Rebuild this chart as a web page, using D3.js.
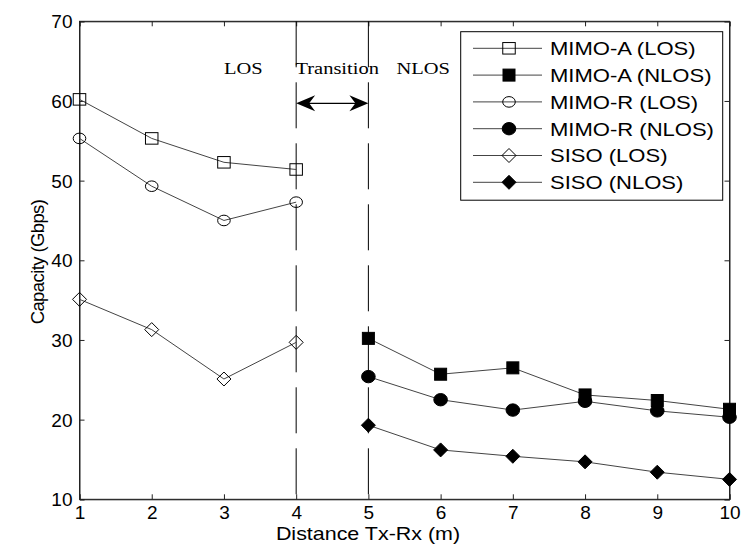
<!DOCTYPE html>
<html><head><meta charset="utf-8">
<script src="https://cdn.jsdelivr.net/npm/d3@7"></script>
<style>body{margin:0;background:#fff}svg{display:block}</style>
</head><body>
<svg id="c" width="745" height="546"></svg>
<script>
// ---- data ----
const xLOS = [1, 2, 3, 4];
const xNLOS = [5, 6, 7, 8, 9, 10];
const mimoA_LOS = [60.2, 55.3, 52.3, 51.4];
const mimoR_LOS = [55.3, 49.3, 45.0, 47.3];
const siso_LOS = [35.1, 31.3, 25.1, 29.7];
const mimoA_NLOS = [30.2, 25.7, 26.5, 23.1, 22.4, 21.3];
const mimoR_NLOS = [25.4, 22.5, 21.2, 22.3, 21.1, 20.3];
const siso_NLOS = [19.3, 16.2, 15.4, 14.7, 13.4, 12.5];
const seriesNames = ["MIMO-A (LOS)", "MIMO-A (NLOS)", "MIMO-R (LOS)", "MIMO-R (NLOS)", "SISO (LOS)", "SISO (NLOS)"];
const xTicks = [1, 2, 3, 4, 5, 6, 7, 8, 9, 10];
const yTicks = [10, 20, 30, 40, 50, 60, 70];
const regionLabels = ["LOS", "Transition", "NLOS"];
const xTitle = "Distance Tx-Rx (m)";
const yTitle = "Capacity (Gbps)";

const series = [
  {name: seriesNames[0], xs: xLOS, ys: mimoA_LOS, shape: "square", filled: false},
  {name: seriesNames[1], xs: xNLOS, ys: mimoA_NLOS, shape: "square", filled: true},
  {name: seriesNames[2], xs: xLOS, ys: mimoR_LOS, shape: "circle", filled: false},
  {name: seriesNames[3], xs: xNLOS, ys: mimoR_NLOS, shape: "circle", filled: true},
  {name: seriesNames[4], xs: xLOS, ys: siso_LOS, shape: "diamond", filled: false},
  {name: seriesNames[5], xs: xNLOS, ys: siso_NLOS, shape: "diamond", filled: true}
];

const svg = d3.select("#c");
const L = 79.5, R = 729.5, T = 21.3, B = 499.3;
const x = d3.scaleLinear().domain([1, 10]).range([L, R]);
const y = d3.scaleLinear().domain([10, 70]).range([B, T]);
const SX = 1.16; // horizontal stretch of the original figure

// frame
svg.append("rect").attr("x", L).attr("y", T).attr("width", R - L).attr("height", B - T)
  .attr("fill", "none").attr("stroke", "#222").attr("stroke-width", 1);

// axes
const xAxis = svg.append("g").attr("transform", `translate(0,${B})`)
  .call(d3.axisBottom(x).tickValues(xTicks).tickSize(-5).tickPadding(9).tickFormat(d3.format("d")));
const xAxisTop = svg.append("g").attr("transform", `translate(0,${T})`)
  .call(d3.axisTop(x).tickValues(xTicks).tickSize(-5).tickFormat(""));
const yAxis = svg.append("g").attr("transform", `translate(${L},0)`)
  .call(d3.axisLeft(y).tickValues(yTicks).tickSize(-5).tickPadding(7).tickFormat(d3.format("d")));
const yAxisR = svg.append("g").attr("transform", `translate(${R},0)`)
  .call(d3.axisRight(y).tickValues(yTicks).tickSize(-5).tickFormat(""));
[xAxis, xAxisTop, yAxis, yAxisR].forEach(g => {
  g.select(".domain").attr("stroke", "#222");
  g.selectAll(".tick line").attr("stroke", "#222");
});
xAxis.selectAll(".tick text").attr("font-family", "Arial, 'Liberation Sans', sans-serif")
  .attr("font-size", 19).attr("fill", "#000").attr("dy", null).attr("y", 20);
yAxis.selectAll(".tick text").attr("font-family", "Arial, 'Liberation Sans', sans-serif")
  .attr("font-size", 19).attr("fill", "#000").attr("x", -7).attr("dy", "0.35em");

// dashed region boundaries
[4, 5].forEach(v => {
  svg.append("line").attr("x1", x(v)).attr("x2", x(v)).attr("y1", T).attr("y2", B)
    .attr("stroke", "#000").attr("stroke-width", 1).attr("stroke-dasharray", "46,15");
});

// region labels
function sText(tx, ty, str, size, family, anchor, sx) {
  const g = svg.append("g").attr("transform", `translate(${tx},${ty}) scale(${sx},1)`);
  return g.append("text").attr("x", 0).attr("y", 0).attr("font-size", size)
    .attr("font-family", family).attr("text-anchor", anchor).attr("fill", "#000").text(str);
}
const serif = "'Liberation Serif', 'Times New Roman', serif";
sText(224, 74, regionLabels[0], 16, serif, "start", 1.28);
sText(295.5, 74, regionLabels[1], 16, serif, "start", 1.28);
sText(396.5, 74, regionLabels[2], 16, serif, "start", 1.28);

// double-headed arrow
const ay = 103.3, ax1 = x(4), ax2 = x(5);
svg.append("line").attr("x1", ax1 + 10).attr("x2", ax2 - 10).attr("y1", ay).attr("y2", ay)
  .attr("stroke", "#000").attr("stroke-width", 1.2);
svg.append("path").attr("d", `M${ax1},${ay} L${ax1 + 19},${ay - 8} L${ax1 + 13},${ay} L${ax1 + 19},${ay + 8} Z`).attr("fill", "#000");
svg.append("path").attr("d", `M${ax2},${ay} L${ax2 - 19},${ay - 8} L${ax2 - 13},${ay} L${ax2 - 19},${ay + 8} Z`).attr("fill", "#000");

// markers
function marker(g, shape, filled, cx, cy) {
  const fill = filled ? "#000" : "none";
  if (shape === "square") {
    const w = filled ? 12 : 12.5, h = filled ? 12 : 11.5;
    g.append("rect").attr("x", cx - w / 2).attr("y", cy - h / 2).attr("width", w).attr("height", h)
      .attr("fill", fill).attr("stroke", "#000").attr("stroke-width", 1);
  } else if (shape === "circle") {
    const rx = filled ? 6.8 : 6.3, ry = filled ? 6.2 : 5.3;
    g.append("ellipse").attr("cx", cx).attr("cy", cy).attr("rx", rx).attr("ry", ry)
      .attr("fill", fill).attr("stroke", "#000").attr("stroke-width", 1);
  } else {
    const hw = 7, hh = 7;
    g.append("path").attr("d", `M${cx},${cy - hh} L${cx + hw},${cy} L${cx},${cy + hh} L${cx - hw},${cy} Z`)
      .attr("fill", fill).attr("stroke", "#000").attr("stroke-width", 1);
  }
}

const line = d3.line().x(d => x(d[0])).y(d => y(d[1]));
series.forEach(s => {
  const pts = s.xs.map((v, i) => [v, s.ys[i]]);
  svg.append("path").attr("d", line(pts)).attr("fill", "none").attr("stroke", "#444").attr("stroke-width", 1);
  const g = svg.append("g");
  pts.forEach(p => marker(g, s.shape, s.filled, x(p[0]), y(p[1])));
});

// legend
const lg = svg.append("g");
lg.append("rect").attr("x", 460.7).attr("y", 31.7).attr("width", 262).attr("height", 168.5)
  .attr("fill", "#fff").attr("stroke", "#000").attr("stroke-width", 1);
series.forEach((s, i) => {
  const ly = 48.3 + i * 26.8;
  lg.append("line").attr("x1", 473).attr("x2", 542).attr("y1", ly).attr("y2", ly)
    .attr("stroke", "#444").attr("stroke-width", 1);
  marker(lg, s.shape, s.filled, 509, ly);
  const t = lg.append("g").attr("transform", `translate(550,${ly + 6.8}) scale(${SX},1)`);
  t.append("text").attr("font-family", "Arial, 'Liberation Sans', sans-serif").attr("font-size", 19)
    .attr("fill", "#000").text(s.name);
});

// axis titles
sText(368, 540, xTitle, 18.5, "Arial, 'Liberation Sans', sans-serif", "middle", SX);
svg.append("text").attr("transform", `translate(44,262) rotate(-90)`).attr("text-anchor", "middle")
  .attr("font-family", "Arial, 'Liberation Sans', sans-serif").attr("font-size", 18.5)
  .attr("letter-spacing", -0.6).attr("fill", "#000").text(yTitle);
</script>
</body></html>
